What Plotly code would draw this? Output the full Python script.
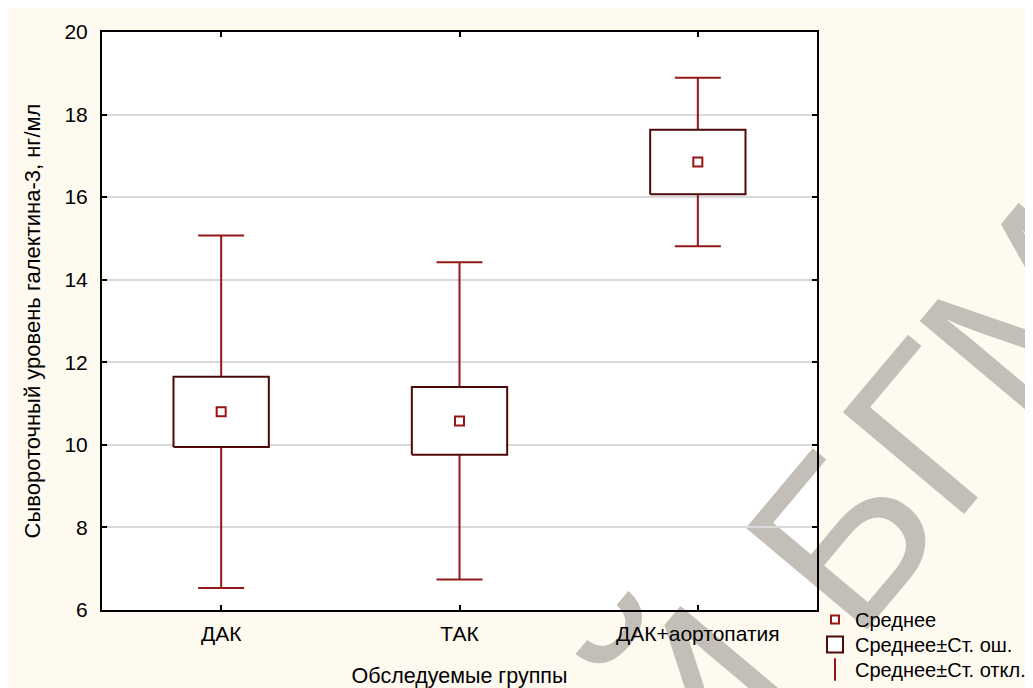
import base64
import plotly.graph_objects as go

# ---- data ----
categories = ["ДАК", "ТАК", "ДАК+аортопатия"]
means = [10.80, 10.58, 16.85]
std_err = [0.85, 0.82, 0.78]
std_dev = [4.27, 3.84, 2.04]
y_ticks = [6, 8, 10, 12, 14, 16, 18, 20]

legend_names = ["Среднее", "Среднее±Ст. ош.", "Среднее±Ст. откл."]
x_label = "Обследуемые группы"
y_label = "Сывороточный уровень галектина-3, нг/мл"
watermark_text_a = "РЕПОЗИТОРИЙ"
watermark_text_b = "БГМУ"

# ---- style ----
W, H = 1041, 680          # page body adds an 8px offset
ML, MR, MT, MB = 94, 232, 24, 78
PW, PH = W - ML - MR, H - MT - MB
CREAM = "#FFFAF0"
WM_GREY = "#C3BFB8"
WHISKER = "#931818"
BOXLINE = "#4E0A0A"
MEANCOL = "#9A1414"
FONT = "Liberation Sans, Arial, sans-serif"
BOX_HALF = 0.2
LEG_FS = 20

xs = list(range(len(categories)))
x_range = [-0.5, len(categories) - 0.5]
y_range = [y_ticks[0], y_ticks[-1]]

fig = go.Figure()

# whiskers (mean ± SD)
fig.add_trace(go.Scatter(
    x=xs, y=means, mode="markers",
    marker=dict(size=1, opacity=0),
    error_y=dict(type="data", array=std_dev, visible=True,
                 color=WHISKER, thickness=2, width=23),
    showlegend=False, hoverinfo="skip",
))

# boxes (mean ± SE)
for xi, m, se in zip(xs, means, std_err):
    fig.add_trace(go.Scatter(
        x=[xi - BOX_HALF, xi + BOX_HALF, xi + BOX_HALF, xi - BOX_HALF, xi - BOX_HALF],
        y=[m - se, m - se, m + se, m + se, m - se],
        mode="lines", fill="toself", fillcolor="white",
        line=dict(color=BOXLINE, width=2),
        showlegend=False, hoverinfo="skip",
    ))

# means
fig.add_trace(go.Scatter(
    x=xs, y=means, mode="markers",
    marker=dict(symbol="square", size=9, color="white",
                line=dict(color=MEANCOL, width=2)),
    showlegend=False,
))

# legend entries, one legend each so their spacing can follow the reference
fig.add_trace(go.Scatter(
    x=[None], y=[None], mode="markers", name=legend_names[0], legend="legend",
    marker=dict(symbol="square", size=8, color="white", line=dict(color=MEANCOL, width=2)),
))
fig.add_trace(go.Scatter(
    x=[None], y=[None], mode="markers", name=legend_names[1], legend="legend2",
    marker=dict(symbol="square", size=17, color="white", line=dict(color=BOXLINE, width=2)),
))
fig.add_trace(go.Scatter(
    x=[None], y=[None], mode="markers", name=legend_names[2], legend="legend3",
    marker=dict(symbol="line-ns", size=18, color=WHISKER, line=dict(color=WHISKER, width=2)),
))

# watermark as an SVG image below grid and traces
svg = f'''<svg xmlns="http://www.w3.org/2000/svg" width="{W}" height="{H}" viewBox="0 0 {W} {H}">
<g transform="translate(847,636) rotate(-50)" font-family="Liberation Sans, Arial, sans-serif" font-size="230" fill="{WM_GREY}">
<text x="-64" y="0" text-anchor="end">{watermark_text_a}</text>
<text x="0" y="0" text-anchor="start">{watermark_text_b}</text>
</g>
</svg>'''
src = "data:image/svg+xml;base64," + base64.b64encode(svg.encode("utf-8")).decode()
fig.add_layout_image(dict(
    source=src, xref="paper", yref="paper",
    x=-ML / PW, y=1 + MT / PH, sizex=W / PW, sizey=H / PH,
    xanchor="left", yanchor="top", sizing="stretch", layer="below",
))

def leg(ypix_top):
    return dict(x=(PW - 2) / PW, xanchor="left", y=(PH - (ypix_top - MT)) / PH, yanchor="top",
                bgcolor="rgba(0,0,0,0)", font=dict(size=LEG_FS), itemsizing="trace")

fig.update_layout(
    width=W, height=H,
    margin=dict(l=ML, r=MR, t=MT, b=MB, autoexpand=False),
    paper_bgcolor=CREAM, plot_bgcolor="white",
    font=dict(family=FONT, size=21, color="black"),
    showlegend=True,
    legend=leg(592), legend2=leg(617), legend3=leg(642),
    xaxis=dict(
        range=x_range, tickmode="array", tickvals=xs, ticktext=categories,
        showgrid=False, zeroline=False,
        showline=True, linecolor="black", linewidth=2, mirror="ticks",
        ticks="inside", ticklen=5, tickwidth=2, tickcolor="black",
        title=dict(text=x_label, standoff=24, font=dict(size=21.5)),
        tickfont=dict(size=21), ticklabelstandoff=4,
    ),
    yaxis=dict(
        range=y_range, tickmode="array", tickvals=y_ticks,
        showgrid=True, gridcolor="#D9D9D9", gridwidth=2, zeroline=False,
        showline=True, linecolor="black", linewidth=2, mirror="ticks",
        ticks="inside", ticklen=5, tickwidth=2, tickcolor="black",
        title=dict(text=y_label, standoff=18, font=dict(size=22)),
        tickfont=dict(size=21), ticklabelstandoff=8,
    ),
)

fig.write_html("out.html")
